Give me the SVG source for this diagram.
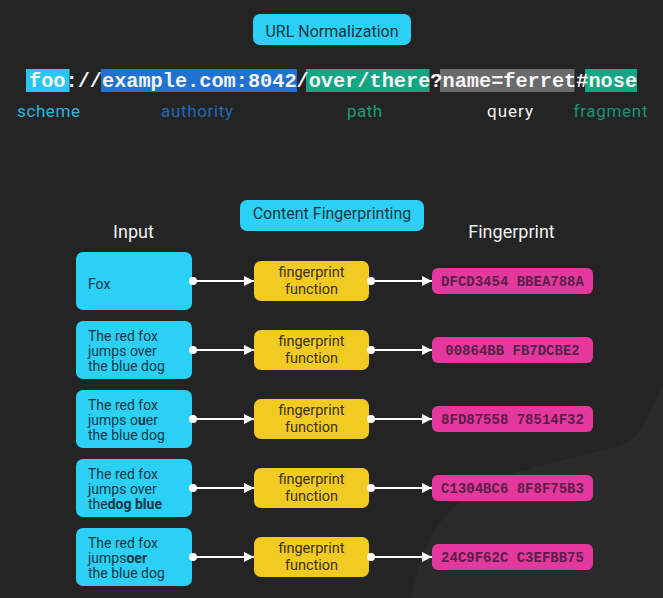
<svg xmlns="http://www.w3.org/2000/svg" width="663" height="598" viewBox="0 0 663 598">
<defs>
<style>
.sans{font-family:Roboto,"Liberation Sans",sans-serif}
.mono{font-family:"Liberation Mono","Courier New",monospace;font-weight:bold}
.hdr{fill:#2ad0f6}
.hdrt{fill:#1b3540;font-size:16px;text-anchor:middle}
.col{fill:#f2f2f2;font-size:18px;text-anchor:middle}
.lbl{font-size:17px;text-anchor:middle}
.in{fill:#2ad0f6}
.int{fill:#163744;font-size:14px}
.fn{fill:#f2cb22}
.fnt{fill:#3a3214;font-size:14.5px;text-anchor:middle}
.fp{fill:#e5389f}
.fpt{fill:#5a1f47;font-size:14px;text-anchor:middle}
.b{font-weight:bold}
.edge{stroke:#ffffff;stroke-width:2;fill:none}
</style>
<marker id="dot" viewBox="0 0 10 10" refX="5" refY="5" markerWidth="8" markerHeight="8" markerUnits="userSpaceOnUse"><circle cx="5" cy="5" r="5" fill="#ffffff"/></marker>
<marker id="arr" viewBox="0 0 10 10" refX="10" refY="5" markerWidth="10" markerHeight="10" markerUnits="userSpaceOnUse" orient="auto"><path d="M0,0 L10,5 L0,10 Z" fill="#ffffff"/></marker>
</defs>
<rect width="663" height="598" fill="#242424"/>
<path d="M663,385 C650,410 642,434 628,442 C600,454 540,462 490,482 C445,505 420,540 411,598 L663,598 Z" fill="#2a2a2a"/>

<g id="title-url">
<rect class="hdr" x="253" y="14" width="158" height="31" rx="7"/>
<text class="sans hdrt" x="332" y="37">URL Normalization</text>
</g>

<g id="url">
<rect x="26" y="69" width="43.5" height="23" fill="#2ac6f2"/>
<rect x="101" y="69" width="196" height="23" fill="#1f72d2"/>
<rect x="306" y="69" width="123.5" height="23" fill="#12a682"/>
<rect x="440" y="69" width="134.5" height="23" fill="#6a6a6a"/>
<rect x="585" y="69" width="52" height="23" fill="#12a682"/>
<text class="mono" x="29" y="87" font-size="20.27" fill="#f5f5f5" xml:space="preserve">foo://example.com:8042/over/there?name=ferret#nose</text>
</g>

<g id="url-labels" class="sans">
<text class="lbl" x="48.5" y="117" fill="#2bb6dd" textLength="63">scheme</text>
<text class="lbl" x="197" y="117" fill="#2169b9" textLength="72">authority</text>
<text class="lbl" x="364.5" y="117" fill="#1b9d7b" textLength="35">path</text>
<text class="lbl" x="510" y="117" fill="#f2f2f2" textLength="46">query</text>
<text class="lbl" x="610.5" y="117" fill="#179277" textLength="74">fragment</text>
</g>

<g id="title-fp">
<rect class="hdr" x="240" y="200" width="184" height="31" rx="7"/>
<text class="sans hdrt" x="332" y="219">Content Fingerprinting</text>
</g>
<g id="col-input"><text class="sans col" x="133.5" y="238">Input</text></g>
<g id="col-fingerprint"><text class="sans col" x="511.5" y="238">Fingerprint</text></g>

<g id="input1"><rect class="in" x="76" y="252" width="116" height="58" rx="7"/>
<text class="sans int" x="88" y="288.5">Fox</text></g>
<g id="input2"><rect class="in" x="76" y="321" width="116" height="58" rx="7"/>
<text class="sans int" x="88"><tspan x="88" y="341">The red fox</tspan><tspan x="88" y="356">jumps over</tspan><tspan x="88" y="371">the blue dog</tspan></text></g>
<g id="input3"><rect class="in" x="76" y="390" width="116" height="58" rx="7"/>
<text class="sans int" x="88"><tspan x="88" y="410">The red fox</tspan><tspan x="88" y="425">jumps o<tspan class="b">u</tspan>er</tspan><tspan x="88" y="440">the blue dog</tspan></text></g>
<g id="input4"><rect class="in" x="76" y="459" width="116" height="58" rx="7"/>
<text class="sans int" x="88"><tspan x="88" y="479">The red fox</tspan><tspan x="88" y="494">jumps over</tspan><tspan x="88" y="509">the<tspan class="b">dog blue</tspan></tspan></text></g>
<g id="input5"><rect class="in" x="76" y="528" width="116" height="58" rx="7"/>
<text class="sans int" x="88"><tspan x="88" y="548">The red fox</tspan><tspan x="88" y="563">jumps<tspan class="b">oer</tspan></tspan><tspan x="88" y="578">the blue dog</tspan></text></g>

<g id="fn1"><rect class="fn" x="254" y="261" width="115" height="40" rx="7"/>
<text class="sans fnt"><tspan x="311.5" y="277">fingerprint</tspan><tspan x="311.5" y="294">function</tspan></text></g>
<g id="fn2"><rect class="fn" x="254" y="330" width="115" height="40" rx="7"/>
<text class="sans fnt"><tspan x="311.5" y="346">fingerprint</tspan><tspan x="311.5" y="363">function</tspan></text></g>
<g id="fn3"><rect class="fn" x="254" y="399" width="115" height="40" rx="7"/>
<text class="sans fnt"><tspan x="311.5" y="415">fingerprint</tspan><tspan x="311.5" y="432">function</tspan></text></g>
<g id="fn4"><rect class="fn" x="254" y="468" width="115" height="40" rx="7"/>
<text class="sans fnt"><tspan x="311.5" y="484">fingerprint</tspan><tspan x="311.5" y="501">function</tspan></text></g>
<g id="fn5"><rect class="fn" x="254" y="537" width="115" height="40" rx="7"/>
<text class="sans fnt"><tspan x="311.5" y="553">fingerprint</tspan><tspan x="311.5" y="570">function</tspan></text></g>

<g id="fp1"><rect class="fp" x="432" y="268" width="161" height="26" rx="6"/>
<text class="mono fpt" x="512.5" y="286">DFCD3454 BBEA788A</text></g>
<g id="fp2"><rect class="fp" x="432" y="337" width="161" height="26" rx="6"/>
<text class="mono fpt" x="512.5" y="355">00864BB FB7DCBE2</text></g>
<g id="fp3"><rect class="fp" x="432" y="406" width="161" height="26" rx="6"/>
<text class="mono fpt" x="512.5" y="424">8FD87558 78514F32</text></g>
<g id="fp4"><rect class="fp" x="432" y="475" width="161" height="26" rx="6"/>
<text class="mono fpt" x="512.5" y="493">C1304BC6 8F8F75B3</text></g>
<g id="fp5"><rect class="fp" x="432" y="544" width="161" height="26" rx="6"/>
<text class="mono fpt" x="512.5" y="562">24C9F62C C3EFBB75</text></g>

<g id="connectors">
<path class="edge" d="M193,281 H254" marker-start="url(#dot)" marker-end="url(#arr)"/>
<path class="edge" d="M193,350 H254" marker-start="url(#dot)" marker-end="url(#arr)"/>
<path class="edge" d="M193,419 H254" marker-start="url(#dot)" marker-end="url(#arr)"/>
<path class="edge" d="M193,488 H254" marker-start="url(#dot)" marker-end="url(#arr)"/>
<path class="edge" d="M193,557 H254" marker-start="url(#dot)" marker-end="url(#arr)"/>
<path class="edge" d="M371,281 H432" marker-start="url(#dot)" marker-end="url(#arr)"/>
<path class="edge" d="M371,350 H432" marker-start="url(#dot)" marker-end="url(#arr)"/>
<path class="edge" d="M371,419 H432" marker-start="url(#dot)" marker-end="url(#arr)"/>
<path class="edge" d="M371,488 H432" marker-start="url(#dot)" marker-end="url(#arr)"/>
<path class="edge" d="M371,557 H432" marker-start="url(#dot)" marker-end="url(#arr)"/>
</g>
</svg>
